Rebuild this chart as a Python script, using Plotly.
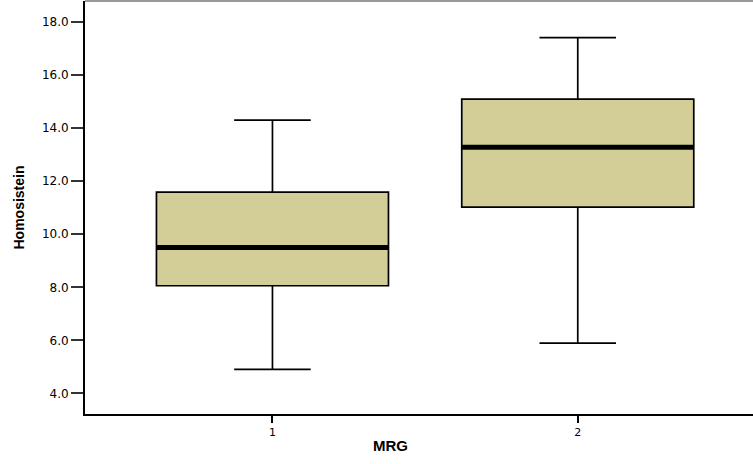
import plotly.graph_objects as go

categories = ["1", "2"]
x_pos = [1, 2]
lower_whisker = [4.91, 5.90]
q1 = [8.06, 11.02]
median = [9.50, 13.28]
q3 = [11.59, 15.09]
upper_whisker = [14.30, 17.41]
y_ticks = [4.0, 6.0, 8.0, 10.0, 12.0, 14.0, 16.0, 18.0]
y_tick_labels = ["4.0", "6.0", "8.0", "10.0", "12.0", "14.0", "16.0", "18.0"]

BOX_W = 0.76
FILL = "#D3CE97"

fig = go.Figure()
for i in range(len(categories)):
    fig.add_trace(go.Box(
        x=[x_pos[i]],
        q1=[q1[i]], median=[median[i]], q3=[q3[i]],
        lowerfence=[lower_whisker[i]], upperfence=[upper_whisker[i]],
        width=BOX_W, whiskerwidth=0.33,
        fillcolor=FILL,
        line=dict(color="#000000", width=1.7),
        boxpoints=False,
        showlegend=False,
        hoverinfo="skip",
    ))
    fig.add_trace(go.Scatter(
        x=[x_pos[i] - BOX_W / 2, x_pos[i] + BOX_W / 2],
        y=[median[i], median[i]],
        mode="lines",
        line=dict(color="#000000", width=5),
        showlegend=False,
        hoverinfo="skip",
    ))

fig.update_layout(
    width=753, height=464,
    margin=dict(l=85, r=0, t=1, b=50, autoexpand=False),
    paper_bgcolor="white", plot_bgcolor="white",
    font=dict(family="DejaVu Sans", size=11, color="#000000"),
    xaxis=dict(
        range=[0.386, 2.574],
        tickmode="array", tickvals=x_pos, ticktext=categories,
        showgrid=False, zeroline=False, automargin=False,
        showline=True, linecolor="#000000", linewidth=2,
        ticks="outside", ticklen=7, tickwidth=2, tickcolor="#000000",
        tickfont=dict(family="DejaVu Sans", size=11, color="#000000"),
    ),
    yaxis=dict(
        range=[3.226, 18.79],
        tickmode="array", tickvals=y_ticks, ticktext=y_tick_labels,
        showgrid=False, zeroline=False, automargin=False,
        showline=True, linecolor="#000000", linewidth=2,
        ticks="outside", ticklen=12, tickwidth=2, tickcolor="#333333",
        tickfont=dict(family="DejaVu Sans", size=12, color="#000000"),
    ),
    shapes=[dict(type="line", xref="paper", yref="paper", x0=0, x1=1, y0=1, y1=1,
                 line=dict(color="#777777", width=1.5))],
    annotations=[
        dict(text="<b>MRG</b>", xref="paper", yref="paper", x=0.457, y=0,
             xanchor="center", yanchor="middle", yshift=-31, showarrow=False,
             font=dict(family="Liberation Sans", size=15)),
        dict(text="<b>Homosistein</b>", xref="paper", yref="paper", x=0, y=0.5,
             xanchor="center", yanchor="middle", xshift=-67, textangle=-90, showarrow=False,
             font=dict(family="Liberation Sans", size=14)),
    ],
)

fig.write_html("out.html",
               config={"displayModeBar": False},
               post_script="document.body.style.margin='0';document.body.style.overflow='hidden';")
